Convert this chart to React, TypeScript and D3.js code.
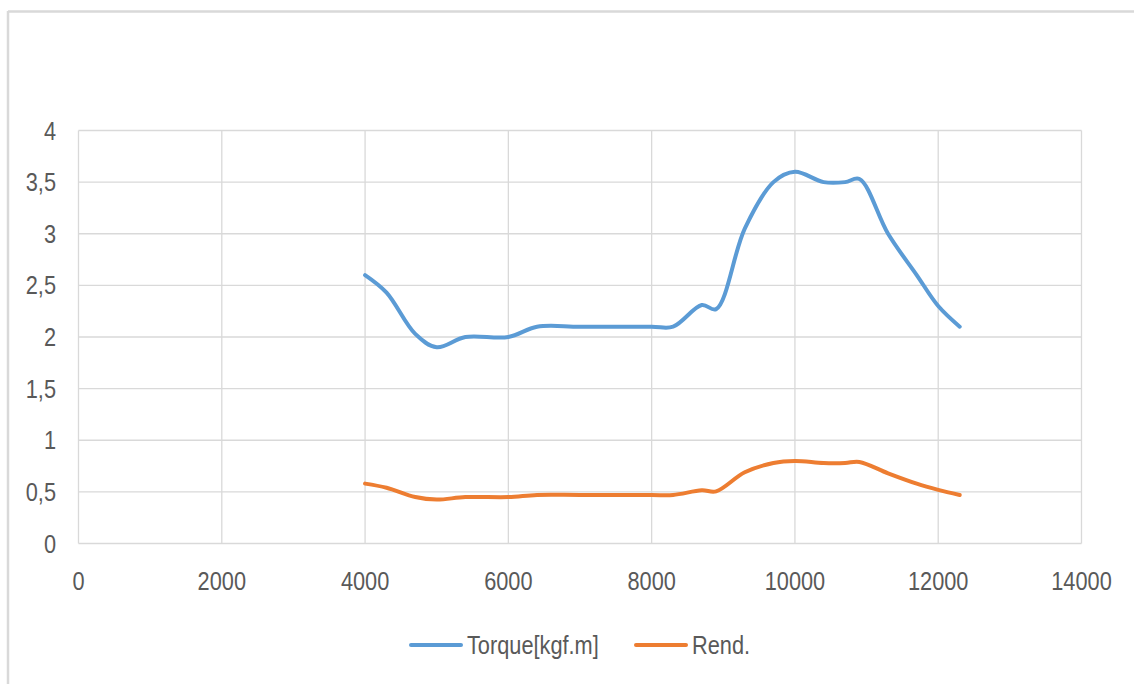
import React from "react";
import * as d3 from "d3";

// Engine speed (rpm) at each measured point
const rpm = [4000, 4300, 4700, 5000, 5400, 6000, 6400, 7000, 8000, 8300, 8700, 8900, 9300, 9700, 10000, 10400, 10700, 10900, 11300, 11700, 12000, 12300];
// Torque [kgf.m]
const torque = [2.6, 2.43, 2.03, 1.9, 2.0, 2.0, 2.1, 2.1, 2.1, 2.1, 2.31, 2.27, 3.05, 3.5, 3.6, 3.5, 3.5, 3.53, 3.0, 2.6, 2.3, 2.1];
// Rendimiento
const rend = [0.58, 0.54, 0.45, 0.425, 0.45, 0.45, 0.47, 0.47, 0.47, 0.47, 0.515, 0.505, 0.69, 0.78, 0.8, 0.78, 0.78, 0.79, 0.68, 0.58, 0.52, 0.47];

const xTicks = [0, 2000, 4000, 6000, 8000, 10000, 12000, 14000];
const yTicks = [0, 0.5, 1, 1.5, 2, 2.5, 3, 3.5, 4];

const seriesNames = ["Torque[kgf.m]", "Rend."];
const seriesColors = ["#5B9BD5", "#ED7D31"];

const W = 1134;
const H = 684;
const FONT = "'Liberation Sans', Arial, sans-serif";
const FS = 25;
const SX = 0.87; // condensed glyphs
const TEXT = "#595959";
const GRID = "#d9d9d9";

function Label(props: { x: number; y: number; anchor: string; dy?: string; children: React.ReactNode }) {
  return (
    <text
      transform={`translate(${props.x},${props.y}) scale(${SX},1)`}
      textAnchor={props.anchor}
      dy={props.dy}
      fontSize={FS}
      fill={TEXT}
    >
      {props.children}
    </text>
  );
}

export default function App() {
  const x = d3.scaleLinear().domain([0, 14000]).range([78.5, 1081.5]);
  const y = d3.scaleLinear().domain([0, 4]).range([543.5, 130.5]);

  const line = d3
    .line<[number, number]>()
    .x((d) => x(d[0]))
    .y((d) => y(d[1]))
    .curve(d3.curveCatmullRom.alpha(0.5));

  const series = [torque, rend].map((vals) => rpm.map((r, i) => [r, vals[i]] as [number, number]));

  const fmt = (v: number) => String(v).replace(".", ",");

  return (
    <svg
      width={W}
      height={H}
      style={{ position: "absolute", left: 0, top: 0, background: "#fff" }}
      fontFamily={FONT}
    >
      {/* chart frame */}
      <line x1={8} y1={11.5} x2={W} y2={11.5} stroke={GRID} strokeWidth={2.5} />
      <line x1={8} y1={11} x2={8} y2={H} stroke={GRID} strokeWidth={2.5} />

      {/* gridlines */}
      {yTicks.map((t) => (
        <line key={"gy" + t} x1={x(0)} x2={x(14000)} y1={y(t)} y2={y(t)} stroke={GRID} strokeWidth={1.3} />
      ))}
      {xTicks.map((t) => (
        <line key={"gx" + t} x1={x(t)} x2={x(t)} y1={y(0)} y2={y(4)} stroke={GRID} strokeWidth={1.3} />
      ))}

      {/* axis labels */}
      {yTicks.map((t) => (
        <Label key={"ly" + t} x={56} y={y(t)} dy="0.36em" anchor="end">
          {fmt(t)}
        </Label>
      ))}
      {xTicks.map((t) => (
        <Label key={"lx" + t} x={x(t)} y={590} anchor="middle">
          {t}
        </Label>
      ))}

      {/* series */}
      {series.map((s, i) => (
        <path
          key={"s" + i}
          d={line(s) || ""}
          fill="none"
          stroke={seriesColors[i]}
          strokeWidth={4}
          strokeLinecap="round"
          strokeLinejoin="round"
        />
      ))}

      {/* legend */}
      <g>
        <line x1={411} x2={461} y1={645} y2={645} stroke={seriesColors[0]} strokeWidth={4} strokeLinecap="round" />
        <Label x={467} y={645} dy="0.36em" anchor="start">
          {seriesNames[0]}
        </Label>
        <line x1={636} x2={686} y1={645} y2={645} stroke={seriesColors[1]} strokeWidth={4} strokeLinecap="round" />
        <Label x={692} y={645} dy="0.36em" anchor="start">
          {seriesNames[1]}
        </Label>
      </g>
    </svg>
  );
}
